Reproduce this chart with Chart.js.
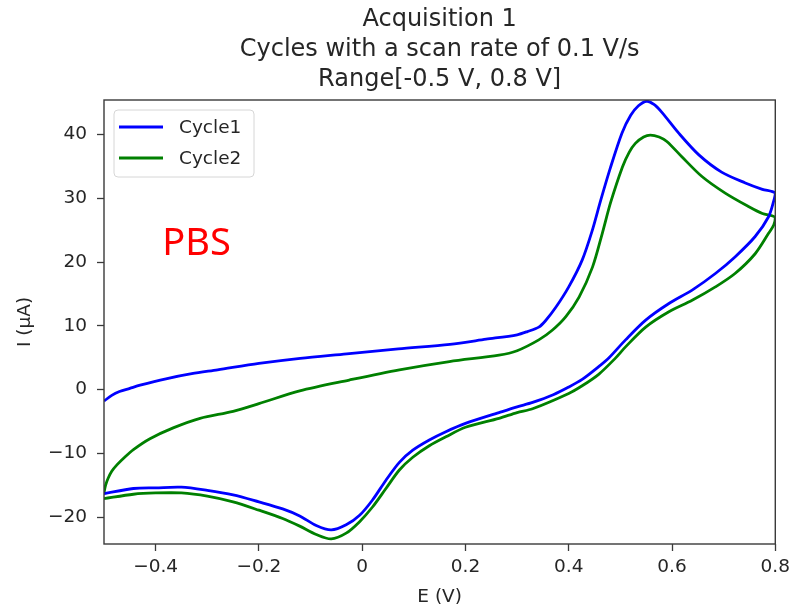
<!DOCTYPE html>
<html>
<head>
<meta charset="utf-8">
<title>Acquisition 1</title>
<script src="https://cdn.jsdelivr.net/npm/chart.js@4.4.1/dist/chart.umd.min.js"></script>
<style>
  html, body { margin: 0; padding: 0; background: #fff; }
  #wrap { width: 795px; height: 612px; }
</style>
</head>
<body>
<div id="wrap"><canvas id="cv" width="795" height="612"></canvas></div>
<script>
// ---- data ----
const titleLines = ['Acquisition 1', 'Cycles with a scan rate of 0.1 V/s', 'Range[-0.5 V, 0.8 V]'];
const seriesNames = ['Cycle1', 'Cycle2'];
const seriesColors = ['#0000ff', '#008000'];
const xTicks = [-0.4, -0.2, 0.0, 0.2, 0.4, 0.6, 0.8];
const yTicks = [-20, -10, 0, 10, 20, 30, 40];
const noteText = 'PBS';

// Cycle 1, forward sweep (-0.5 -> 0.8 V)
const cycle1FwdE = [-0.5, -0.485, -0.47, -0.45, -0.43, -0.38, -0.33, -0.28, -0.2, -0.12, -0.03, 0.07, 0.17, 0.24, 0.3, 0.32, 0.342, 0.355, 0.375, 0.4, 0.426, 0.445, 0.462, 0.48, 0.503, 0.52, 0.535, 0.551, 0.565, 0.58, 0.613, 0.652, 0.696, 0.742, 0.775, 0.8];
const cycle1FwdI = [-1.8, -0.9, -0.3, 0.2, 0.7, 1.7, 2.5, 3.1, 4.1, 4.9, 5.6, 6.4, 7.1, 7.9, 8.6, 9.1, 9.8, 10.8, 12.9, 16.1, 20.3, 24.8, 29.7, 34.6, 40.2, 43.0, 44.5, 45.2, 44.7, 43.5, 40.2, 36.8, 34.1, 32.4, 31.4, 30.8];
// Cycle 1, reverse sweep (0.8 -> -0.5 V)
const cycle1RevE = [0.797, 0.787, 0.761, 0.722, 0.684, 0.639, 0.594, 0.549, 0.51, 0.478, 0.458, 0.426, 0.4, 0.37, 0.33, 0.3, 0.265, 0.2, 0.162, 0.13, 0.098, 0.072, 0.046, 0.02, -0.005, -0.031, -0.06, -0.089, -0.121, -0.154, -0.2, -0.25, -0.3, -0.35, -0.4, -0.443, -0.5];
const cycle1RevI = [29.6, 27.1, 24.0, 20.8, 18.2, 15.6, 13.5, 10.9, 7.8, 5.0, 3.6, 1.6, 0.4, -0.8, -2.0, -2.7, -3.6, -5.3, -6.6, -7.9, -9.5, -11.4, -14.2, -17.3, -19.7, -21.2, -22.0, -21.3, -19.8, -18.7, -17.6, -16.5, -15.8, -15.3, -15.4, -15.5, -16.3];

// Cycle 2, forward sweep
const cycle2FwdE = [-0.5, -0.497, -0.492, -0.485, -0.475, -0.46, -0.443, -0.411, -0.366, -0.314, -0.25, -0.2, -0.121, -0.025, 0.072, 0.169, 0.265, 0.3, 0.342, 0.368, 0.394, 0.42, 0.446, 0.465, 0.481, 0.504, 0.517, 0.529, 0.545, 0.558, 0.575, 0.59, 0.619, 0.658, 0.703, 0.748, 0.775, 0.8];
const cycle2FwdI = [-16.2, -15.0, -13.9, -12.8, -11.8, -10.6, -9.4, -7.7, -6.0, -4.5, -3.4, -2.2, -0.2, 1.5, 3.1, 4.4, 5.4, 6.1, 7.8, 9.3, 11.4, 14.5, 19.2, 24.5, 29.3, 34.9, 37.2, 38.6, 39.6, 39.9, 39.6, 38.9, 36.5, 33.4, 30.8, 28.7, 27.6, 27.0];
// Cycle 2, reverse sweep
const cycle2RevE = [0.797, 0.787, 0.761, 0.722, 0.684, 0.639, 0.594, 0.549, 0.51, 0.49, 0.458, 0.426, 0.4, 0.33, 0.3, 0.265, 0.2, 0.162, 0.13, 0.098, 0.072, 0.046, 0.02, -0.005, -0.031, -0.06, -0.089, -0.121, -0.154, -0.2, -0.25, -0.3, -0.35, -0.4, -0.443, -0.5];
const cycle2RevI = [25.8, 24.5, 21.3, 18.2, 16.1, 14.0, 12.2, 9.8, 6.7, 4.9, 2.4, 0.6, -0.6, -3.0, -3.6, -4.5, -5.9, -7.4, -8.8, -10.6, -12.6, -15.5, -18.4, -20.7, -22.5, -23.4, -22.7, -21.4, -20.2, -18.9, -17.6, -16.7, -16.2, -16.2, -16.4, -17.1];

function toPoints(es, is) {
    return es.map((e, k) => ({ x: e, y: is[k] }));
}

const cycle1 = toPoints(cycle1FwdE.concat(cycle1RevE), cycle1FwdI.concat(cycle1RevI));
const cycle2 = toPoints(cycle2FwdE.concat(cycle2RevE), cycle2FwdI.concat(cycle2RevI));

const FONT = 'DejaVu Sans';
const TEXT = '#262626';
Chart.defaults.font.family = FONT;
Chart.defaults.color = TEXT;

const fmt = v => (Math.abs(v) < 1e-9 ? 0 : v).toString().replace('-', '\u2212');

// frame, title, legend and the PBS note
const overlay = {
    id: 'overlay',
    afterDraw(chart) {
        const { ctx, chartArea: a, scales } = chart;
        ctx.save();

        // axes frame
        ctx.strokeStyle = '#3a3a3a';
        ctx.lineWidth = 1.4;
        ctx.strokeRect(a.left, a.top, a.right - a.left, a.bottom - a.top);

        // title, centered over the plot
        const cx = (a.left + a.right) / 2;
        ctx.fillStyle = TEXT;
        ctx.font = '24px "' + FONT + '"';
        ctx.textAlign = 'center';
        ctx.textBaseline = 'middle';
        titleLines.forEach((t, k) => ctx.fillText(t, cx, 20 + k * 30));

        // legend box
        const bx = a.left + 10, by = a.top + 10, bw = 140, bh = 67;
        ctx.beginPath();
        ctx.roundRect(bx, by, bw, bh, 4);
        ctx.fillStyle = 'rgba(255,255,255,0.8)';
        ctx.fill();
        ctx.strokeStyle = '#d6d6d6';
        ctx.lineWidth = 1;
        ctx.stroke();
        ctx.font = '18.5px "' + FONT + '"';
        ctx.textAlign = 'left';
        chart.data.datasets.forEach((ds, k) => {
            const ly = by + 17 + k * 31;
            ctx.strokeStyle = ds.borderColor;
            ctx.lineWidth = 2.8;
            ctx.beginPath();
            ctx.moveTo(bx + 5, ly);
            ctx.lineTo(bx + 49, ly);
            ctx.stroke();
            ctx.fillStyle = TEXT;
            ctx.fillText(ds.label, bx + 65, ly + 1);
        });

        // PBS note, anchored in data coordinates
        ctx.font = '38px "Noto Sans"';
        ctx.fillStyle = '#ff0000';
        ctx.textBaseline = 'alphabetic';
        ctx.fillText(noteText, scales.x.getPixelForValue(-0.387), scales.y.getPixelForValue(21.1));

        ctx.restore();
    }
};

const tickGrid = {
    display: true,
    drawOnChartArea: false,
    drawTicks: true,
    tickLength: 7,
    tickColor: '#3a3a3a',
    tickWidth: 1.3
};

new Chart(document.getElementById('cv'), {
    type: 'scatter',
    data: {
        datasets: [cycle1, cycle2].map((pts, k) => ({
            label: seriesNames[k],
            data: pts,
            showLine: true,
            borderColor: seriesColors[k],
            backgroundColor: seriesColors[k],
            borderWidth: 2.8,
            pointRadius: 0,
            tension: 0.3
        }))
    },
    options: {
        responsive: false,
        animation: false,
        layout: { padding: { top: 100, right: 18, left: 0, bottom: 0 } },
        plugins: {
            legend: { display: false },
            tooltip: { enabled: false }
        },
        scales: {
            x: {
                type: 'linear',
                min: -0.5,
                max: 0.8,
                afterBuildTicks: s => { s.ticks = xTicks.map(v => ({ value: v })); },
                afterFit: s => { s.height = 68; },
                grid: tickGrid,
                border: { display: false },
                ticks: {
                    padding: 5,
                    font: { size: 18.5 },
                    color: TEXT,
                    maxRotation: 0,
                    callback: v => fmt(Number(v).toFixed(1))
                },
                title: {
                    display: true,
                    text: 'E (V)',
                    font: { size: 18.5 },
                    color: TEXT,
                    padding: { top: 0, bottom: 4 }
                }
            },
            y: {
                type: 'linear',
                min: -24.2,
                max: 45.4,
                afterBuildTicks: s => { s.ticks = yTicks.map(v => ({ value: v })); },
                afterFit: s => { s.width = 104; },
                grid: tickGrid,
                border: { display: false },
                ticks: {
                    padding: 10,
                    font: { size: 18.5 },
                    color: TEXT,
                    callback: v => fmt(v)
                },
                title: {
                    display: true,
                    text: 'I (\u00b5A)',
                    font: { size: 18.5 },
                    color: TEXT,
                    padding: { top: 14, bottom: 0 }
                }
            }
        }
    },
    plugins: [overlay]
});
</script>
</body>
</html>
